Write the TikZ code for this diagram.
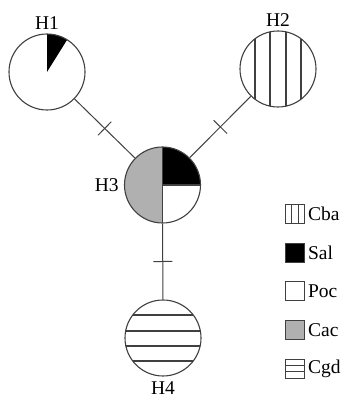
\documentclass[tikz,border=0pt]{standalone}
\usepackage{fontspec}
\setmainfont{Liberation Serif}
\usetikzlibrary{positioning,decorations.markings}
\definecolor{linegray}{HTML}{404040}
\definecolor{cacgray}{HTML}{B0B0B0}

\begin{document}
\begin{tikzpicture}[x=1pt,y=1pt,
  hap/.style={circle,draw=linegray,line width=1.1pt,minimum size=76pt,inner sep=0pt},
  link/.style={draw=linegray,line width=1pt,postaction={decorate},
    decoration={markings,mark=at position 0.5 with {\draw[linegray,line width=1pt] (0,-9.5) -- (0,9.5);}}},
  key/.style={draw=linegray,line width=0.9pt,minimum size=19pt,inner sep=0pt},
  lbl/.style={font=\fontsize{19.5}{19.5}\selectfont,inner sep=0pt},
  stripe/.style={linegray,line width=1.2pt}]
\useasboundingbox (0,0) rectangle (347,398);

% Nodes
\node[hap,path picture={
    \fill (path picture bounding box.center) -- ++(90:40) arc[start angle=90,end angle=58,radius=40] -- cycle;}]
  at (47,326) (h1) {};
\node[hap,path picture={
    \foreach \dx in {-23,-8,8,23}
      \draw[stripe] ([xshift=\dx pt]path picture bounding box.north) -- ([xshift=\dx pt]path picture bounding box.south);}]
  at (278,329) (h2) {};
\node[hap,path picture={
    \fill[cacgray] (path picture bounding box.center) -- ++(90:40) arc[start angle=90,end angle=270,radius=40] -- cycle;
    \fill (path picture bounding box.center) -- ++(90:40) arc[start angle=90,end angle=0,radius=40] -- cycle;
    \draw[stripe] (path picture bounding box.north) -- (path picture bounding box.south);
    \draw[stripe] (path picture bounding box.center) -- (path picture bounding box.east);}]
  at (162.5,213) (h3) {};
\node[hap,path picture={
    \foreach \dy in {-23,-8,7,23}
      \draw[stripe] ([yshift=\dy pt]path picture bounding box.west) -- ([yshift=\dy pt]path picture bounding box.east);}]
  at (163,60) (h4) {};

% Labels
\node[lbl,above=4pt of h1] (t1) {H1};
\node[lbl,above=4pt of h2] (t2) {H2};
\node[lbl,left=5pt of h3] (t3) {H3};
\node[lbl,below=5pt of h4] (t4) {H4};

% Connectors
\draw[link] (h1) -- (h3);
\draw[link] (h2) -- (h3);
\draw[link] (h3) -- (h4);

% Legend
\node[key,path picture={
    \foreach \dx in {-3.2,3.2}
      \draw[linegray,line width=0.9pt] ([xshift=\dx pt]path picture bounding box.north) -- ([xshift=\dx pt]path picture bounding box.south);}]
  at (295,184) (kcba) {};
\node[key,fill=black,below=19pt of kcba] (ksal) {};
\node[key,fill=white,below=18pt of ksal] (kpoc) {};
\node[key,fill=cacgray,below=19pt of kpoc] (kcac) {};
\node[key,below=19pt of kcac,path picture={
    \foreach \dy in {-3.2,3.2}
      \draw[linegray,line width=0.9pt] ([yshift=\dy pt]path picture bounding box.west) -- ([yshift=\dy pt]path picture bounding box.east);}]
  (kcgd) {};
\node[lbl,right=3pt of kcba] {Cba};
\node[lbl,right=3pt of ksal] {Sal};
\node[lbl,right=3pt of kpoc] {Poc};
\node[lbl,right=3pt of kcac] {Cac};
\node[lbl,right=3pt of kcgd] {Cgd};

\end{tikzpicture}
\end{document}
